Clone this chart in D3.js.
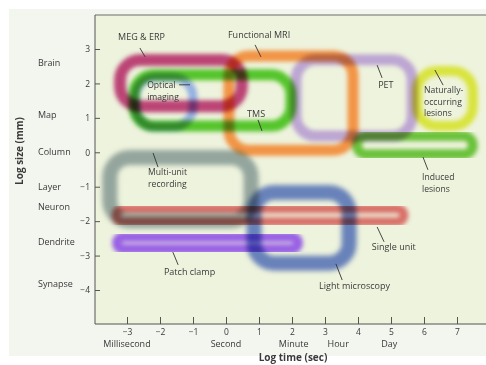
<!DOCTYPE html>
<html><head><meta charset="utf-8">
<script src="https://cdn.jsdelivr.net/npm/d3@7"></script>
<style>
html,body{margin:0;padding:0;background:#fff;}
svg{display:block;}
text{font-family:"Open Sans","Noto Sans",sans-serif;fill:#3a3a3a;}
</style></head>
<body>
<svg id="c" width="486" height="365"></svg>
<script>
// ---- data ----
const methods = ["Multi-unit recording","Light microscopy","Single unit","Patch clamp","Optical imaging","TMS","MEG & ERP","Functional MRI","PET","Naturally-occurring lesions","Induced lesions"];
const timeMin = [-3.52, 0.85, -3.33, -3.30, -2.75, -2.79, -3.21, 0.09, 2.12, 5.79, 3.97];
const timeMax = [ 0.76, 3.73,  5.39,  2.18, -1.00,  1.97,  0.48, 3.85, 5.64, 7.48, 7.48];
const sizeMax = [-0.15,-1.17, -1.64, -2.46,  2.18,  2.25,  2.68, 2.80, 2.69, 2.36, 0.47];
const sizeMin = [-1.99,-3.22, -2.02, -2.81,  0.74,  0.76,  1.34, 0.06, 0.47, 0.76,-0.06];

const xTicks = [-3,-2,-1,0,1,2,3,4,5,6,7];
const yTicks = [-4,-3,-2,-1,0,1,2,3];
const timeUnits = ["Millisecond","Second","Minute","Hour","Day"];
const timeUnitPos = [-3, 0, 2.05, 3.4, 4.95];
const sizeUnits = ["Brain","Map","Column","Layer","Neuron","Dendrite","Synapse"];
const sizeUnitPos = [2.6, 1.08, 0, -1, -1.6, -2.6, -3.82];

// labels: lines, text start (time, size), leader from/to
const labelLines = [["MEG & ERP"],["Functional MRI"],["Optical","imaging"],["TMS"],["PET"],["Naturally-","occurring","lesions"],["Induced","lesions"],["Multi-unit","recording"],["Single unit"],["Patch clamp"],["Light microscopy"]];
const labelX = [-3.27, 0.06, -2.39, 0.64, 4.61, 6.0, 5.94, -2.36, 4.42, -1.88, 2.82];
const labelY = [3.26, 3.32, 1.85, 1.02, 1.87, 1.69, -0.83, -0.69, -2.84, -3.56, -3.97];
const leadX1 = [-2.61, 0.88, -1.42, 0.97, 4.58, 6.33, 5.97, -2.21, 4.58, -1.61, 3.33];
const leadY1 = [3.03, 3.12, 1.96, 0.94, 2.53, 2.39, -0.14, -0.02, -2.17, -2.90, -3.24];
const leadX2 = [-2.45, 1.06, -1.09, 1.09, 4.73, 6.58, 6.12, -2.06, 4.79, -1.45, 3.52];
const leadY2 = [2.77, 2.77, 1.96, 0.62, 2.16, 1.95, -0.51, -0.43, -2.60, -3.27, -3.71];

// ---- styles ----
const colorOf = {
  "Multi-unit recording":"#8a9c96","Light microscopy":"#5a76b6","Single unit":"#d6625c",
  "Patch clamp":"#9052e6","Optical imaging":"#8ca8e2","TMS":"#42c01a","MEG & ERP":"#b5306a",
  "Functional MRI":"#f28a34","PET":"#b79dd2","Naturally-occurring lesions":"#d6e22c","Induced lesions":"#5cbd2a"};
const widthOf = {"Multi-unit recording":15,"Light microscopy":15,"Single unit":9,"Patch clamp":10,
  "Optical imaging":9,"TMS":11,"MEG & ERP":12,"Functional MRI":11,"PET":11,"Naturally-occurring lesions":10,"Induced lesions":10};

const svg = d3.select("#c");
const x = d3.scaleLinear().domain([-3,7]).range([127,457]);
const y = d3.scaleLinear().domain([-4,3]).range([290,49]);
const pL = 95, pT = 15, pB = 324, pR = 486;

const defs = svg.append("defs");
[["b1",1.9],["b2",2.8]].forEach(([id,s])=>{
  defs.append("filter").attr("id",id).attr("x","-20%").attr("y","-20%").attr("width","140%").attr("height","140%")
    .append("feGaussianBlur").attr("stdDeviation",s);
});

// page backgrounds
svg.append("rect").attr("x",9).attr("y",9).attr("width",477).attr("height",347).attr("fill","#f3f5ef");
svg.append("rect").attr("x",pL).attr("y",pT).attr("width",pR-pL).attr("height",pB-pT).attr("fill","#eef3dd");

// outlines
const g = svg.append("g").style("isolation","isolate");
methods.forEach((m,i)=>{
  const x0 = x(timeMin[i]), x1 = x(timeMax[i]), y0 = y(sizeMax[i]), y1 = y(sizeMin[i]);
  const h = y1-y0, w = x1-x0;
  const r = Math.min(h/2, w/2, 20);
  g.append("rect").attr("x",x0).attr("y",y0).attr("width",w).attr("height",h)
    .attr("rx",r).attr("ry",r).attr("fill","none")
    .attr("stroke",colorOf[m]).attr("stroke-width",widthOf[m]).attr("stroke-opacity",0.9)
    .attr("filter", widthOf[m]>=15 ? "url(#b2)" : "url(#b1)")
    .style("mix-blend-mode","multiply");
});

// frame lines
svg.append("line").attr("x1",pL).attr("x2",pR).attr("y1",pT).attr("y2",pT).attr("stroke","#6e6e6e").attr("stroke-width",1.2);

// axes
const xAxis = d3.axisBottom(x).tickValues(xTicks).tickSize(-7).tickPadding(4).tickFormat(d3.format("d"));
const gx = svg.append("g").attr("transform",`translate(0,${pB})`).call(xAxis);
gx.select(".domain").remove();
svg.append("line").attr("x1",pL).attr("x2",pR).attr("y1",pB).attr("y2",pB).attr("stroke","#555").attr("stroke-width",1);
gx.selectAll(".tick line").attr("stroke","#555");
gx.selectAll(".tick text").attr("y",5).style("font-size","8.5px").style("font-family","Open Sans").attr("fill","#444");

const yAxis = d3.axisLeft(y).tickValues(yTicks).tickSize(-5).tickPadding(4).tickFormat(d3.format("d"));
const gy = svg.append("g").attr("transform",`translate(${pL},0)`).call(yAxis);
gy.select(".domain").remove();
svg.append("line").attr("x1",pL).attr("x2",pL).attr("y1",pT).attr("y2",pB).attr("stroke","#555").attr("stroke-width",1);
gy.selectAll(".tick line").attr("stroke","#555");
gy.selectAll(".tick text").attr("x",-5).style("font-size","8.5px").style("font-family","Open Sans").attr("fill","#444");

// unit labels
svg.append("g").selectAll("text").data(timeUnits).join("text")
  .attr("x",(d,i)=>x(timeUnitPos[i])).attr("y",347).attr("text-anchor","middle")
  .style("font-size","9px").text(d=>d);
svg.append("g").selectAll("text").data(sizeUnits).join("text")
  .attr("x",38).attr("y",(d,i)=>y(sizeUnitPos[i])+3).attr("text-anchor","start")
  .style("font-size","9px").text(d=>d);

// axis titles
svg.append("text").attr("x",293).attr("y",361).attr("text-anchor","middle")
  .style("font-size","10px").style("font-weight","bold").attr("fill","#222").text("Log time (sec)");
svg.append("text").attr("transform","translate(23,151) rotate(-90)").attr("text-anchor","middle")
  .style("font-size","10px").style("font-weight","bold").attr("fill","#222").text("Log size (mm)");

// labels & leaders (multi-line labels: one text element per line)
const lg = svg.append("g");
const lineGap = 11.8, refGap = 10.5;
labelLines.forEach((lines,i)=>{
  lg.append("line").attr("x1",x(leadX1[i])).attr("y1",y(leadY1[i])).attr("x2",x(leadX2[i])).attr("y2",y(leadY2[i]))
    .attr("stroke","#333").attr("stroke-width",0.9);
  const n = lines.length;
  const first = y(labelY[i]) - (lineGap-refGap)*(n-1)/2;
  lines.forEach((s,k)=>{
    lg.append("text").attr("x",x(labelX[i])).attr("y",first + k*lineGap)
      .style("font-size", n>1 ? "8.6px" : "9px").text(s);
  });
});
</script>
</body></html>
